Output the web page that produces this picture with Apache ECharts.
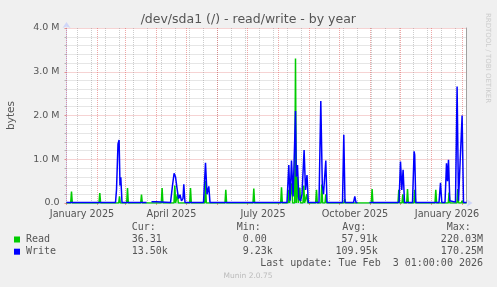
<!DOCTYPE html>
<html>
<head>
<meta charset="utf-8">
<script src="https://cdn.jsdelivr.net/npm/echarts@6/dist/echarts.min.js"></script>
<style>
html,body{margin:0;padding:0;background:#F0F0F0;}
#chart{width:497px;height:287px;}
</style>
</head>
<body>
<div id="chart"></div>
<script>
// x = days since 1 January 2025, y = bytes in millions
const titleText = "/dev/sda1 (/) - read/write - by year";
const yTickValues = [0, 1, 2, 3, 4];
const xLabelDays = [15.5, 105, 196.5, 288.5, 380.5];
const xLabelTexts = ["January 2025", "April 2025", "July 2025", "October 2025", "January 2026"];
const monthStarts = [0, 31, 59, 90, 120, 151, 181, 212, 243, 273, 304, 334, 365, 396];
const biweeklyLines = [11, 25, 39, 53, 67, 81, 95, 109, 123, 137, 151, 165, 179, 193, 207, 221, 235, 249, 263, 277, 291, 305, 319, 333, 347, 361, 375, 389];

const readPoints = [
  [0,0],[4.2,0],[5,0.26],[5.8,0],
  [32.5,0],[33.3,0.23],[34.1,0],
  [52.2,0],[53,0.15],[53.8,0],
  [60.2,0],[61,0.34],[61.8,0],
  [74.2,0],[75,0.19],[75.8,0],
  [94.8,0],[95.6,0.34],[96.4,0],
  [107.5,0],[108.3,0.4],[109.1,0],[110.2,0],[111,0.2],[111.8,0],
  [123.2,0],[124,0.34],[124.8,0],
  [138.2,0],[139,0.5],[139.8,0],
  [158.5,0],[159.3,0.3],[160.1,0],
  [186.5,0],[187.3,0.33],[188.1,0],
  [214.2,0],[215,0.36],[215.8,0],
  [221.5,0],[222.3,0.3],[223.1,0],[224.5,0],[225.3,0.45],[226.1,0],
  [228.2,0],[229,3.3],[229.8,0],[230.2,0],[231,0.6],[231.8,0],
  [232.5,0],[233.3,0.35],[234.1,0],[236.5,0],[237.3,0.4],[238.1,0],
  [239.5,0],[240.3,0.2],[241.1,0],
  [249.2,0],[250,0.3],[250.8,0],[254.5,0],[255.3,0.42],[256.1,0],
  [258.5,0],[259.3,0.2],[260.1,0],
  [277.5,0],[278.3,0.09],[279.1,0],
  [304.8,0],[305.6,0.32],[306.4,0],
  [331.5,0],[332.3,0.3],[333.1,0],[335.5,0],[336.3,0.2],[337.1,0],
  [340.2,0],[341,0.32],[341.8,0],
  [347.5,0],[348.3,0.3],[349.1,0],
  [368.5,0],[369.3,0.3],[370.1,0],
  [381.8,0],[382.6,0.24],[383.4,0],
  [390.5,0],[391.3,0.32],[392.1,0],
  [394.8,0],[395.6,0.05],[396.4,0],[400,0]
];

const writePoints = [
  [0,0.01],[49,0.01],[50,0.3],[51.5,1.35],[52.6,1.44],[53.5,0.4],[54.3,0.59],[55.5,0.01],
  [80,0.01],[81,'-'],[84,'-'],[85,0.03],[90,0.03],[91,0.01],
  [104,0.01],[106,0.4],[107.6,0.68],[109,0.6],[110.5,0.34],[112,0.1],[113.5,0.19],
  [115,0.05],[116.5,0.1],[117.3,0.43],[118.5,0.01],
  [137,0.01],[139,0.92],[140.5,0.2],[142.3,0.38],[143.5,0.01],
  [220.5,0.01],[222.3,0.87],[223.5,0.05],[225,0.97],[226.6,0.15],[228.3,1.5],[229,2.1],
  [229.8,0.6],[231,0.87],[232.3,0.1],[234,0.05],[235.5,0.2],[237.6,1.21],[239,0.3],
  [240.5,0.64],[241.8,0.01],
  [252.5,0.01],[254.3,2.33],[255.8,0.4],[257,0.2],[259.3,0.97],[260.5,0.01],
  [276,0.01],[277.3,1.56],[278.5,0.01],
  [287,0.01],[288.3,0.15],[289.5,0.01],[291,0.01],[292,'-'],[302,'-'],[303,0.01],
  [332.5,0.01],[334,0.95],[335.3,0.3],[336.6,0.76],[338,0.01],
  [346,0.01],[347.6,1.18],[348.2,1.1],[349.3,0.01],
  [372.5,0.01],[374,0.46],[375.3,0.01],[378.5,0.01],[380,0.91],[381,0.5],[382,0.99],
  [383.3,0.05],[384,0.02],[389,0.02],[390.6,2.66],[392,0.05],[394,0.01],[395.6,2.0],
  [397,0.01],[400,0.01]
];

const legendHeaders = ["Cur:", "Min:", "Avg:", "Max:"];
const legendNames = ["Read", "Write"];
const curValues = ["36.31", "13.50k"];
const minValues = ["0.00", "9.23k"];
const avgValues = ["57.91k", "109.95k"];
const maxValues = ["220.03M", "170.25M"];
const lastUpdate = "Last update: Tue Feb  3 01:00:00 2026";
const versionText = "Munin 2.0.75";
const watermark = "RRDTOOL / TOBI OETIKER";

const seriesColors = ["#00CC00", "#0000FF"];
const textColor = "#555555";
const majorGrid = {color: "rgba(222,79,79,0.5)", type: [1, 1], width: 1};
const minorGrid = {color: "rgba(143,143,143,0.45)", type: [1, 1], width: 1};
const axisColor = "#CFD6F8";
const mono = '10px "DejaVu Sans Mono"';

const chart = echarts.init(document.getElementById('chart'), null, {renderer: 'canvas'});

const markData = [];
biweeklyLines.forEach(d => markData.push({xAxis: d, lineStyle: minorGrid}));
monthStarts.forEach(d => markData.push({xAxis: d, lineStyle: majorGrid}));

const graphics = [];
graphics.push({type: 'text', style: {x: 248.3, y: 19.5, text: titleText, font: '12.5px "DejaVu Sans"', fill: textColor, align: 'center', verticalAlign: 'middle'}});
graphics.push({type: 'text', x: 487.5, y: 58, rotation: -Math.PI / 2, style: {x: 0, y: 0, text: watermark, font: '7px "DejaVu Sans"', fill: '#CCCCCC', align: 'center', verticalAlign: 'middle'}});
const headerX = [131.7, 236.7, 342.3, 446.7];
legendHeaders.forEach((h, i) => graphics.push({type: 'text', style: {x: headerX[i], y: 227.7, text: h, font: mono, fill: textColor, align: 'left', verticalAlign: 'middle'}}));
const rowY = [239.5, 251.7];
legendNames.forEach((n, i) => {
  graphics.push({type: 'rect', shape: {x: 14, y: rowY[i] - 3, width: 6, height: 6}, style: {fill: seriesColors[i]}});
  graphics.push({type: 'text', style: {x: 26, y: rowY[i], text: n, font: mono, fill: textColor, align: 'left', verticalAlign: 'middle'}});
  graphics.push({type: 'text', style: {x: 131.7, y: rowY[i], text: curValues[i], font: mono, fill: textColor, align: 'left', verticalAlign: 'middle'}});
  graphics.push({type: 'text', style: {x: 242.7, y: rowY[i], text: minValues[i], font: mono, fill: textColor, align: 'left', verticalAlign: 'middle'}});
  graphics.push({type: 'text', style: {x: 377.7, y: rowY[i], text: avgValues[i], font: mono, fill: textColor, align: 'right', verticalAlign: 'middle'}});
  graphics.push({type: 'text', style: {x: 483, y: rowY[i], text: maxValues[i], font: mono, fill: textColor, align: 'right', verticalAlign: 'middle'}});
});
graphics.push({type: 'text', style: {x: 483, y: 263.5, text: lastUpdate, font: mono, fill: textColor, align: 'right', verticalAlign: 'middle'}});
graphics.push({type: 'text', style: {x: 248, y: 276.5, text: versionText, font: '7.5px "DejaVu Sans"', fill: '#BBBBBB', align: 'center', verticalAlign: 'middle'}});

chart.setOption({
  animation: false,
  backgroundColor: '#F0F0F0',
  grid: {left: 66.5, top: 28, width: 400, height: 175, show: true, backgroundColor: '#FFFFFF', borderWidth: 0,
         containLabel: false, outerBoundsMode: 'none'},
  xAxis: {
    type: 'value', min: 0, max: 400,
    axisLine: {show: true, lineStyle: {color: axisColor, width: 1}, symbol: ['none', 'arrow'], symbolSize: [6, 6], symbolOffset: [0, 6]},
    axisTick: {show: true, customValues: monthStarts, length: 2, lineStyle: {color: 'rgba(222,79,79,0.6)'}},
    axisLabel: {
      customValues: xLabelDays, margin: 6, color: textColor,
      fontFamily: 'DejaVu Sans', fontSize: 9.7,
      formatter: v => xLabelTexts[xLabelDays.indexOf(v)] || ''
    },
    splitLine: {show: false}
  },
  yAxis: [{
    type: 'value', min: 0, max: 4, interval: 1,
    name: 'bytes', nameLocation: 'middle', nameRotate: 90, nameGap: 50,
    nameTextStyle: {color: textColor, fontFamily: 'DejaVu Sans', fontSize: 10.5},
    axisLine: {show: true, lineStyle: {color: axisColor}, symbol: ['none', 'arrow'], symbolSize: [6, 6], symbolOffset: [0, 6]},
    axisTick: {show: true, length: 2, lineStyle: {color: 'rgba(222,79,79,0.6)'}},
    minorTick: {show: true, splitNumber: 5, length: 2, lineStyle: {color: 'rgba(143,143,143,0.6)'}},
    axisLabel: {margin: 7, color: textColor, fontFamily: 'DejaVu Sans', fontSize: 9.5,
      formatter: v => v === 0 ? '0.0' : v.toFixed(1) + ' M'},
    splitLine: {show: true, lineStyle: majorGrid},
    minorSplitLine: {show: true, lineStyle: minorGrid}
  }, {
    type: 'value', min: 0, max: 4, position: 'right',
    axisLine: {show: true, lineStyle: {color: '#A0A0A0'}},
    axisTick: {show: false}, axisLabel: {show: false}, splitLine: {show: false}
  }],
  series: [{
    name: 'Read', type: 'line', data: readPoints, showSymbol: false, symbol: 'none',
    lineStyle: {color: seriesColors[0], width: 1.5}, z: 2,
    markLine: {silent: true, symbol: ['none', 'none'], label: {show: false}, z: 1, animation: false, data: markData}
  }, {
    name: 'Write', type: 'line', data: writePoints, showSymbol: false, symbol: 'none',
    connectNulls: false, lineStyle: {color: seriesColors[1], width: 1.5}, z: 3
  }],
  graphic: graphics
});
</script>
</body>
</html>
